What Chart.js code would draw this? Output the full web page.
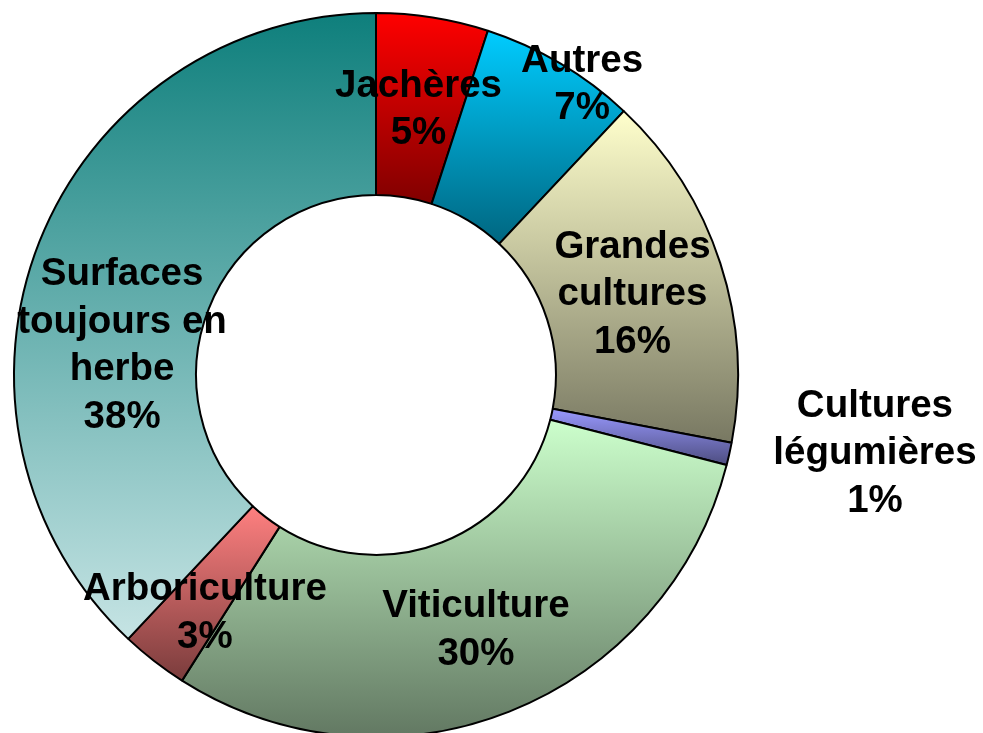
<!DOCTYPE html>
<html>
<head>
<meta charset="utf-8">
<script src="https://cdn.jsdelivr.net/npm/chart.js@4.4.0/dist/chart.umd.min.js"></script>
<style>
    html, body { margin: 0; padding: 0; background: #fff; overflow: hidden; }
    #wrap { width: 983px; height: 733px; position: relative; }
</style>
</head>
<body>
<div id="wrap"><canvas id="donut"></canvas></div>
<script>
// Data (clockwise from 12 o'clock)
const categories = ['Jachères', 'Autres', 'Grandes cultures', 'Cultures légumières', 'Viticulture', 'Arboriculture', 'Surfaces toujours en herbe'];
const shares = [5, 7, 16, 1, 30, 3, 38];
const labelLines = [
    ['Jachères'],
    ['Autres'],
    ['Grandes', 'cultures'],
    ['Cultures', 'légumières'],
    ['Viticulture'],
    ['Arboriculture'],
    ['Surfaces', 'toujours en', 'herbe']
];

// Styles: vertical gradient top -> bottom for each slice
const topColors = ['#FF0000', '#00CCFF', '#FFFFCC', '#9999FF', '#CCFFCC', '#FF8080', '#0E7F7C'];
const bottomColors = ['#800000', '#006680', '#787862', '#4D4D80', '#627862', '#7A3C3C', '#C6E4E4'];

// Label anchor per slice: [fraction of outer radius, angle shift in degrees]
const labelAnchors = [[0.75, 0], [0.99, 4.5], [0.745, 0], [1.394, -4], [0.75, 0], [0.804, -1.8], [0.707, -14.4]];

const OUTER = 362;
const CUT = 0.497;
const LINE_H = 47.5;
const CAP_HALF = 13.6;

const total = shares.reduce((a, b) => a + b, 0);

function sliceGradient(context) {
    const chart = context.chart;
    const area = chart.chartArea;
    const i = context.dataIndex;
    if (!area) return topColors[i];
    const cy = (area.top + area.bottom) / 2;
    const before = shares.slice(0, i).reduce((a, b) => a + b, 0);
    const a0 = -Math.PI / 2 + before / total * 2 * Math.PI;
    const a1 = a0 + shares[i] / total * 2 * Math.PI;
    let yMin = Infinity, yMax = -Infinity;
    for (let k = 0; k <= 90; k++) {
        const a = a0 + (a1 - a0) * k / 90;
        [OUTER, OUTER * CUT].forEach(r => {
            const y = cy + Math.sin(a) * r;
            yMin = Math.min(yMin, y);
            yMax = Math.max(yMax, y);
        });
    }
    const g = chart.ctx.createLinearGradient(0, yMin, 0, yMax);
    g.addColorStop(0, topColors[i]);
    g.addColorStop(1, bottomColors[i]);
    return g;
}

const sliceLabels = {
    id: 'sliceLabels',
    afterDatasetsDraw(chart) {
        const ctx = chart.ctx;
        const meta = chart.getDatasetMeta(0);
        ctx.save();
        ctx.font = 'bold 38.5px "Liberation Sans", Arial, sans-serif';
        ctx.fillStyle = '#000';
        ctx.textAlign = 'center';
        ctx.textBaseline = 'alphabetic';
        meta.data.forEach((arc, i) => {
            const p = arc.getProps(['x', 'y', 'startAngle', 'endAngle', 'outerRadius']);
            const [rf, da] = labelAnchors[i];
            const mid = (p.startAngle + p.endAngle) / 2 + da * Math.PI / 180;
            const lx = p.x + Math.cos(mid) * p.outerRadius * rf;
            const ly = p.y + Math.sin(mid) * p.outerRadius * rf;
            const lines = [...labelLines[i], Math.round(shares[i] / total * 100) + '%'];
            const first = ly - (lines.length - 1) * LINE_H / 2;
            lines.forEach((t, k) => ctx.fillText(t, lx, first + k * LINE_H + CAP_HALF));
        });
        ctx.restore();
    }
};

new Chart(document.getElementById('donut'), {
    type: 'doughnut',
    data: {
        labels: categories,
        datasets: [{
            data: shares,
            backgroundColor: sliceGradient,
            borderColor: '#000',
            borderWidth: 2,
            clip: false
        }]
    },
    options: {
        responsive: true,
        maintainAspectRatio: false,
        animation: false,
        radius: OUTER,
        cutout: (CUT * 100) + '%',
        layout: { padding: { left: 0, right: 231, top: 17, bottom: 0 } },
        plugins: {
            legend: { display: false },
            tooltip: { enabled: false }
        }
    },
    plugins: [sliceLabels]
});
</script>
</body>
</html>
